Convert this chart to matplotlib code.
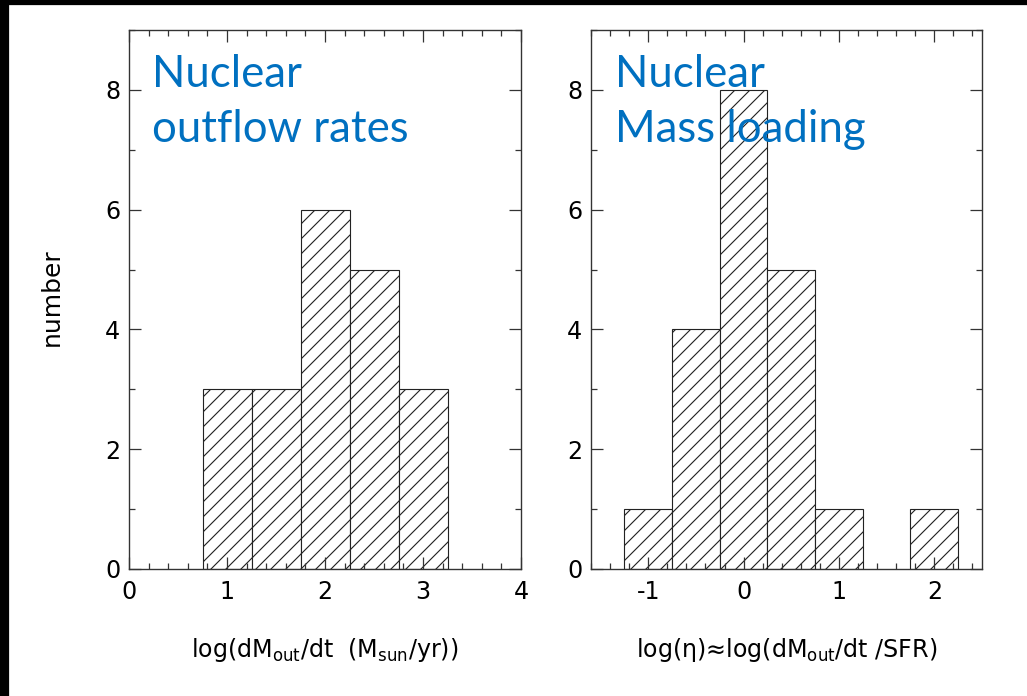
import matplotlib
matplotlib.use("Agg")
import matplotlib.pyplot as plt
from matplotlib.patches import Rectangle
from matplotlib.ticker import MultipleLocator

plt.rcParams.update({
    "font.family": ["DejaVu Sans"],
    "mathtext.fontset": "dejavusans",
    "hatch.linewidth": 0.9,
    "hatch.color": "#333333",
})

# histogram data: left bin edges and counts
rate_edges = [0.75, 1.25, 1.75, 2.25, 2.75]
rate_counts = [3, 3, 6, 5, 3]
load_edges = [-1.25, -0.75, -0.25, 0.25, 0.75, 1.75]
load_counts = [1, 4, 8, 5, 1, 1]
bin_width = 0.5

rate_ticks = [0, 1, 2, 3, 4]
load_ticks = [-1, 0, 1, 2]
y_ticks = [0, 2, 4, 6, 8]

BLUE = "#0070C0"
DPI = 90
fig = plt.figure(figsize=(1027 / DPI, 696 / DPI), dpi=DPI)

# black frame strips from the original slide
fig.patches.append(Rectangle((0, 0), 8 / 1027, 1, transform=fig.transFigure,
                             color="black", zorder=0))
fig.patches.append(Rectangle((0, 1 - 4 / 696), 1, 4 / 696, transform=fig.transFigure,
                             color="black", zorder=0))

ax1 = fig.add_axes([129 / 1027, 127 / 696, 392 / 1027, 539 / 696])
ax2 = fig.add_axes([591 / 1027, 127 / 696, 391 / 1027, 539 / 696])


def style(ax, xlim, xticks):
    ax.set_xlim(*xlim)
    ax.set_ylim(0, 9)
    ax.set_xticks(xticks)
    ax.set_yticks(y_ticks)
    ax.xaxis.set_minor_locator(MultipleLocator(0.2))
    ax.yaxis.set_minor_locator(MultipleLocator(1))
    ax.tick_params(which="both", direction="in", top=True, right=True,
                   color="#333333", width=1.0, labelsize=19)
    ax.tick_params(which="major", length=9.5)
    ax.tick_params(which="minor", length=4.8)
    ax.tick_params(axis="x", which="major", pad=9)
    ax.tick_params(axis="y", which="major", pad=7)
    for s in ax.spines.values():
        s.set_color("#333333")
        s.set_linewidth(1.1)


style(ax1, (0, 4), rate_ticks)
style(ax2, (-1.6, 2.5), load_ticks)
ax2.set_xticklabels(["-1", "0", "1", "2"])

ax1.bar(rate_edges, rate_counts, width=bin_width, align="edge", color="white",
        edgecolor="#222222", linewidth=0.9, hatch="//")
ax2.bar(load_edges, load_counts, width=bin_width, align="edge", color="white",
        edgecolor="#222222", linewidth=0.9, hatch="//")

ax1.set_xlabel(r"log(dM$_{\rm out}$/dt  (M$_{\rm sun}$/yr))", fontsize=19)
ax2.set_xlabel(r"log(η)≈log(dM$_{\rm out}$/dt /SFR)", fontsize=19)
for ax in (ax1, ax2):
    ax.xaxis.set_label_coords(0.5, -0.125)
    ax.xaxis.label.set_va("top")

fig.text(52 / 1027, 1 - 297 / 696, "number", rotation=90, ha="center",
         va="center", fontsize=20)

blue_font = dict(family=["Lato", "DejaVu Sans"], fontsize=35, color=BLUE,
                 ha="left", va="baseline", zorder=5)
ax1.text(0.0587, 0.894, "Nuclear", transform=ax1.transAxes, **blue_font)
ax1.text(0.0587, 0.792, "outflow rates", transform=ax1.transAxes, **blue_font)
ax2.text(0.0614, 0.894, "Nuclear", transform=ax2.transAxes, **blue_font)
ax2.text(0.0614, 0.792, "Mass loading", transform=ax2.transAxes, **blue_font)

fig.savefig("out.png", dpi=DPI)
